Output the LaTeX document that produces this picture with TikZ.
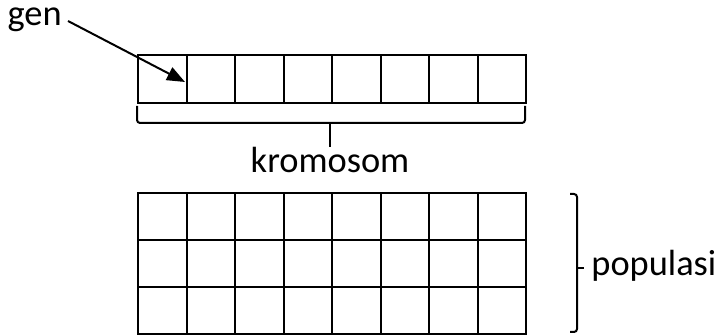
\documentclass[tikz,border=0pt]{standalone}
\usepackage{fontspec}
\setmainfont{Carlito}
\usetikzlibrary{positioning,arrows.meta}
\tikzset{
  cell/.style={draw,line width=1pt,minimum width=24.25pt,minimum height=24pt,inner sep=0pt,outer sep=0pt},
  popcell/.style={cell,minimum height=23.5pt},
  lbl/.style={font=\fontsize{18.2}{22}\selectfont,inner sep=0pt},
  brace/.style={line width=1pt,rounded corners=1.5pt}
}
\begin{document}
\begin{tikzpicture}[x=0.5pt,y=-0.5pt]
        \useasboundingbox (0,0) rectangle (722,335);
        % kromosom
        \foreach \i in {1,...,8}
            \node [cell] (c\i) at ({138+48.5*(\i-0.5)},79) {};
        % populasi
        \foreach \r in {1,2,3}
            \foreach \i in {1,...,8}
                \node [popcell] (p\r-\i) at ({138+48.5*(\i-0.5)},{193+47*(\r-0.5)}) {};
        % gen
        \node [lbl,inner sep=3pt,anchor=mid east] (gen) at (68,21) {gen};
        \coordinate (gentip) at (185,82);
        \draw [line width=1pt,-{Triangle[length=9pt,width=7pt]}] (gen.mid east) -- (gentip);
        % brace under kromosom
        \coordinate (ktick) at (330,147);
        \draw [brace] (137,106) -- (137,123) -- (525,123) -- (525,106);
        \draw [line width=1pt] (330,123) -- (ktick);
        \node [lbl,anchor=north] (krom) at (ktick) {kromosom};
        % brace beside populasi
        \coordinate (ptick) at (584,268);
        \draw [brace] (570,194) -- (577,194) -- (577,332) -- (570,332);
        \draw [line width=1pt] (577,268) -- (ptick);
        \node [lbl,anchor=mid west] (pop) at (591,271) {populasi};
\end{tikzpicture}
\end{document}
